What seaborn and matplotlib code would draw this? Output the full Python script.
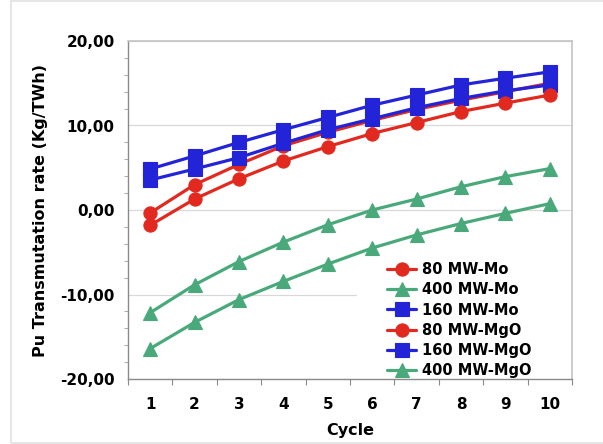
import matplotlib
matplotlib.use("Agg")
import matplotlib.pyplot as plt
import seaborn as sns
import pandas as pd
from matplotlib.ticker import FixedLocator, MultipleLocator, FuncFormatter
from matplotlib.patches import Rectangle

sns.set_theme(style="white")
plt.rcParams['font.family'] = ['DejaVu Sans']
plt.rcParams['font.weight'] = 'bold'
plt.rcParams['text.color'] = 'black'
plt.rcParams['axes.labelcolor'] = 'black'
plt.rcParams['xtick.labelcolor'] = 'black'
plt.rcParams['ytick.labelcolor'] = 'black'

cycles = [1, 2, 3, 4, 5, 6, 7, 8, 9, 10]
mw80_mo = [-0.35, 3.0, 5.4, 7.6, 9.2, 10.6, 11.9, 13.0, 14.0, 15.0]
mw400_mo = [-12.15, -8.85, -6.1, -3.8, -1.75, 0.0, 1.3, 2.75, 3.95, 4.9]
mw160_mo = [3.55, 4.85, 6.2, 7.9, 9.5, 10.8, 12.1, 13.2, 14.1, 14.8]
mw80_mgo = [-1.8, 1.3, 3.7, 5.8, 7.5, 9.05, 10.35, 11.65, 12.65, 13.6]
mw160_mgo = [4.85, 6.4, 8.0, 9.5, 10.95, 12.4, 13.6, 14.8, 15.6, 16.35]
mw400_mgo = [-16.4, -13.3, -10.6, -8.45, -6.4, -4.5, -2.95, -1.6, -0.4, 0.75]

series_names = ["80 MW-Mo", "400 MW-Mo", "160 MW-Mo", "80 MW-MgO", "160 MW-MgO", "400 MW-MgO"]
series_values = [mw80_mo, mw400_mo, mw160_mo, mw80_mgo, mw160_mgo, mw400_mgo]

RED, GREEN, BLUE = "#e2291f", "#4aa97b", "#2323d8"
styles = {
    "80 MW-Mo": (RED, "o", 9.5),
    "400 MW-Mo": (GREEN, "^", 10),
    "160 MW-Mo": (BLUE, "s", 10),
    "80 MW-MgO": (RED, "o", 9.5),
    "160 MW-MgO": (BLUE, "s", 10),
    "400 MW-MgO": (GREEN, "^", 10),
}

fig = plt.figure(figsize=(6.03, 4.44), dpi=100)
fig.patches.append(Rectangle((11 / 603, 1 / 444), 1.0, 442 / 444, transform=fig.transFigure,
                             fill=False, edgecolor="#e2e2e2", linewidth=1.2))
ax = fig.add_axes([128 / 603, 1 - 379 / 444, 444 / 603, 338 / 444])

for name, vals in zip(series_names, series_values):
    c, m, ms = styles[name]
    df = pd.DataFrame({"Cycle": cycles, "rate": vals})
    sns.lineplot(data=df, x="Cycle", y="rate", ax=ax, color=c, marker=m, markersize=ms,
                 markeredgecolor=c, markeredgewidth=0.8, linewidth=2.3, label=name, zorder=3)

ax.set_xlim(0.5, 10.5)
ax.set_ylim(-20, 20)
ax.xaxis.set_major_locator(FixedLocator(cycles))
ax.xaxis.set_minor_locator(MultipleLocator(1, offset=0.5))
ax.yaxis.set_major_locator(MultipleLocator(10))
ax.yaxis.set_minor_locator(MultipleLocator(2))
ax.yaxis.set_major_formatter(FuncFormatter(lambda v, p: f"{v:.2f}".replace(".", ",")))

ax.set_axisbelow(True)
ax.grid(axis="y", which="major", color="#d9d9d9", linewidth=0.9)
ax.grid(axis="x", visible=False)

for s in ["left", "bottom"]:
    ax.spines[s].set_color("#8a8a8a")
    ax.spines[s].set_linewidth(1.0)
for s in ["top", "right"]:
    ax.spines[s].set_color("#c4c4c4")
    ax.spines[s].set_linewidth(1.2)

ax.tick_params(axis="y", which="major", direction="out", length=4, width=0.9, color="#8a8a8a",
               pad=5.5, labelsize=11, labelcolor="black")
ax.tick_params(axis="y", which="minor", direction="out", length=3, width=0.7, color="#aaaaaa", left=True)
ax.tick_params(axis="x", which="major", length=0, pad=13, labelsize=11, labelcolor="black")
ax.tick_params(axis="x", which="minor", direction="out", length=4, width=0.8, color="#8a8a8a", bottom=True)
for lab in ax.get_xticklabels() + ax.get_yticklabels():
    lab.set_fontweight("bold")

ax.set_xlabel("Cycle", fontsize=11.5, fontweight="bold", labelpad=8, color="black")
ax.set_ylabel("Pu Transmutation rate (Kg/TWh)", fontsize=11.5, fontweight="bold", labelpad=9,
              color="black")

# white legend area hiding gridlines
ax.add_patch(Rectangle((229 / 444, 0), 1 - 229 / 444, 119 / 338, transform=ax.transAxes,
                       facecolor="white", edgecolor="none", zorder=1))
leg = ax.legend(loc="upper left", bbox_to_anchor=(259 / 444, 117 / 338), frameon=False,
                prop={"size": 10.5, "weight": "bold"}, handlelength=2.0, handletextpad=0.4,
                labelspacing=0.36, borderpad=0, borderaxespad=0)
for t in leg.get_texts():
    t.set_color("black")

fig.savefig("out.png", dpi=100)
